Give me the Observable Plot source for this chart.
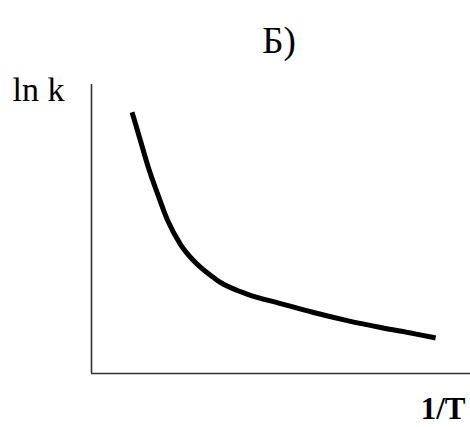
<!DOCTYPE html>
<html>
<head>
<meta charset="utf-8">
<script src="https://cdn.jsdelivr.net/npm/d3@7"></script>
<script src="https://cdn.jsdelivr.net/npm/@observablehq/plot@0.6"></script>
<style>
  html, body { margin: 0; padding: 0; background: #fff; }
</style>
</head>
<body>
<div id="chart"></div>
<script>
// (arbitrary units: x = 1/T, y = ln k)
const invT = [1.07, 1.29, 1.50, 1.74, 2.01, 2.35, 2.69, 2.88, 3.22, 3.40, 3.85, 4.12, 4.99, 5.86, 6.75, 7.63, 8.50, 9.08];
const lnK  = [9.04, 8.06, 7.13, 6.23, 5.29, 4.46, 3.91, 3.67, 3.32, 3.15, 2.87, 2.74, 2.42, 2.11, 1.83, 1.59, 1.38, 1.23];
const titleText = "Б)";
const yLabel = "ln k";
const xLabel = "1/T";

const data = invT.map((x, i) => ({x, y: lnK[i]}));

const chart = Plot.plot({
  width: 470,
  height: 427,
  marginLeft: 91,
  marginRight: 0,
  marginTop: 84,
  marginBottom: 54,
  x: {domain: [0, 10], axis: null},
  y: {domain: [0, 10], axis: null},
  style: {background: "#fff", fontFamily: "'Liberation Serif', 'Times New Roman', serif"},
  marks: [
    Plot.ruleX([0], {stroke: "#333", strokeWidth: 1.6}),
    Plot.ruleY([0], {stroke: "#333", strokeWidth: 1.6}),
    Plot.line(data, {x: "x", y: "y", curve: "monotone-x", stroke: "#000", strokeWidth: 5, strokeLinecap: "butt"}),
    Plot.text([titleText], {frameAnchor: "top", lineAnchor: "bottom", dx: -2, dy: -32, fontSize: 37, fill: "#000"}),
    Plot.text([yLabel], {frameAnchor: "top-left", textAnchor: "start", lineAnchor: "bottom", dx: -79, dy: 16, fontSize: 34, fill: "#000"}),
    Plot.text([xLabel], {frameAnchor: "bottom-right", textAnchor: "end", lineAnchor: "bottom", dx: -5, dy: 45, fontSize: 31, fontWeight: "bold", fill: "#000"})
  ]
});
document.getElementById("chart").appendChild(chart);
</script>
</body>
</html>
